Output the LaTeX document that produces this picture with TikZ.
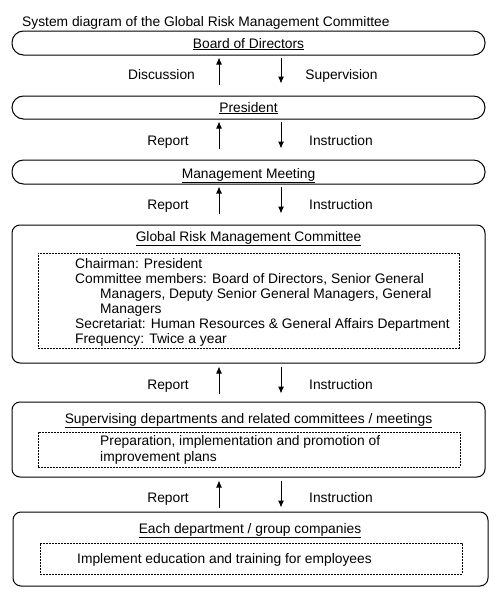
\documentclass[tikz,border=0pt]{standalone}
\usepackage{fontspec}
\setmainfont{Liberation Sans}
\usetikzlibrary{arrows.meta}
\begin{document}
\begin{tikzpicture}[x=1pt,y=-1pt,
  every node/.style={font=\fontsize{13.8}{15}\selectfont, inner sep=0pt},
  pill/.style={draw, line width=1pt, rounded corners=11.5pt, minimum width=473pt},
  bigbox/.style={draw, line width=1pt, rounded corners=8pt, minimum width=473pt},
  dashbox/.style={draw, line width=0.8pt, dash pattern=on 2pt off 1pt},
  arr/.style={line width=1pt, -{Latex[length=7pt,width=6pt]}},
  lbl/.style={anchor=base},
  ttl/.style={anchor=base},
  bodytext/.style={anchor=base west}]
\useasboundingbox (0,0) rectangle (500,616);
\fill[white] (0,0) rectangle (500,616);
\coordinate (ux) at (219,0);
\coordinate (dx) at (281,0);

\node[bodytext] (title) at (22,26.7) {System diagram of the Global Risk Management Committee};

% boxes
\node[pill, minimum height=24pt] (bod) at (248.5,43) {};
\node[ttl] (bodt) at (248.5,48) {\underline{Board of Directors}};
\node[pill, minimum height=23pt] (pres) at (248.5,107.5) {};
\node[ttl] (prest) at (248.5,112) {\underline{President}};
\node[pill, minimum height=24pt] (mgmt) at (248.5,172) {};
\node[ttl] (mgmtt) at (248.5,178) {\underline{Management Meeting}};

\node[bigbox, minimum height=138pt] (grmc) at (248.5,294) {};
\node[ttl] (grmct) at (248.5,241) {\underline{Global Risk Management Committee}};
\node[dashbox, minimum width=421pt, minimum height=95pt] (grmcd) at (248.5,300.5) {};
\node[bodytext] (g1) at (75,268.3) {Chairman: President};
\node[bodytext] (g2) at (75,283.3) {Committee members: Board of Directors, Senior General};
\node[bodytext] (g3) at (100,298.3) {Managers, Deputy Senior General Managers, General};
\node[bodytext] (g4) at (100,313.3) {Managers};
\node[bodytext] (g5) at (75,328.3) {Secretariat: Human Resources \& General Affairs Department};
\node[bodytext] (g6) at (75,343.3) {Frequency: Twice a year};

\node[bigbox, minimum height=75pt] (sup) at (248.5,439.5) {};
\node[ttl] (supt) at (248.5,423.3) {\underline{Supervising departments and related committees / meetings}};
\node[dashbox, minimum width=422pt, minimum height=35pt] (supd) at (249,449.5) {};
\node[bodytext] (s1) at (100,445) {Preparation, implementation and promotion of};
\node[bodytext] (s2) at (100,461) {improvement plans};

\node[bigbox, minimum width=475pt, minimum height=74pt] (each) at (250.5,549) {};
\node[ttl] (eacht) at (250,533.3) {\underline{Each department / group companies}};
\node[dashbox, minimum width=422pt, minimum height=31pt] (eachd) at (251,558.5) {};
\node[bodytext] (e1) at (77,563.3) {Implement education and training for employees};

% arrows
\draw[arr, shorten <=11pt, shorten >=2pt] (pres.north -| ux) -- (bod.south -| ux);
\draw[arr, shorten <=2pt, shorten >=12pt] (bod.south -| dx) -- (pres.north -| dx);
\draw[arr, shorten <=11pt, shorten >=2pt] (mgmt.north -| ux) -- (pres.south -| ux);
\draw[arr, shorten <=2pt, shorten >=11pt] (pres.south -| dx) -- (mgmt.north -| dx);
\draw[arr, shorten <=11pt, shorten >=2pt] (grmc.north -| ux) -- (mgmt.south -| ux);
\draw[arr, shorten <=2pt, shorten >=11pt] (mgmt.south -| dx) -- (grmc.north -| dx);
\draw[arr, shorten <=8pt, shorten >=3pt] (sup.north -| ux) -- (grmc.south -| ux);
\draw[arr, shorten <=3pt, shorten >=8pt] (grmc.south -| dx) -- (sup.north -| dx);
\draw[arr, shorten <=4pt, shorten >=3pt] (each.north -| ux) -- (sup.south -| ux);
\draw[arr, shorten <=3pt, shorten >=4pt] (sup.south -| dx) -- (each.north -| dx);

% labels
\node[lbl] (l1a) at (161.5,79) {Discussion};
\node[lbl] (l1b) at (341.5,79) {Supervision};
\node[lbl] (l2a) at (168,145) {Report};
\node[lbl] (l2b) at (341,145) {Instruction};
\node[lbl] (l3a) at (168,209) {Report};
\node[lbl] (l3b) at (341,209) {Instruction};
\node[lbl] (l4a) at (168,389.3) {Report};
\node[lbl] (l4b) at (341,389.3) {Instruction};
\node[lbl] (l5a) at (168,502.7) {Report};
\node[lbl] (l5b) at (341,502.7) {Instruction};
\end{tikzpicture}
\end{document}
